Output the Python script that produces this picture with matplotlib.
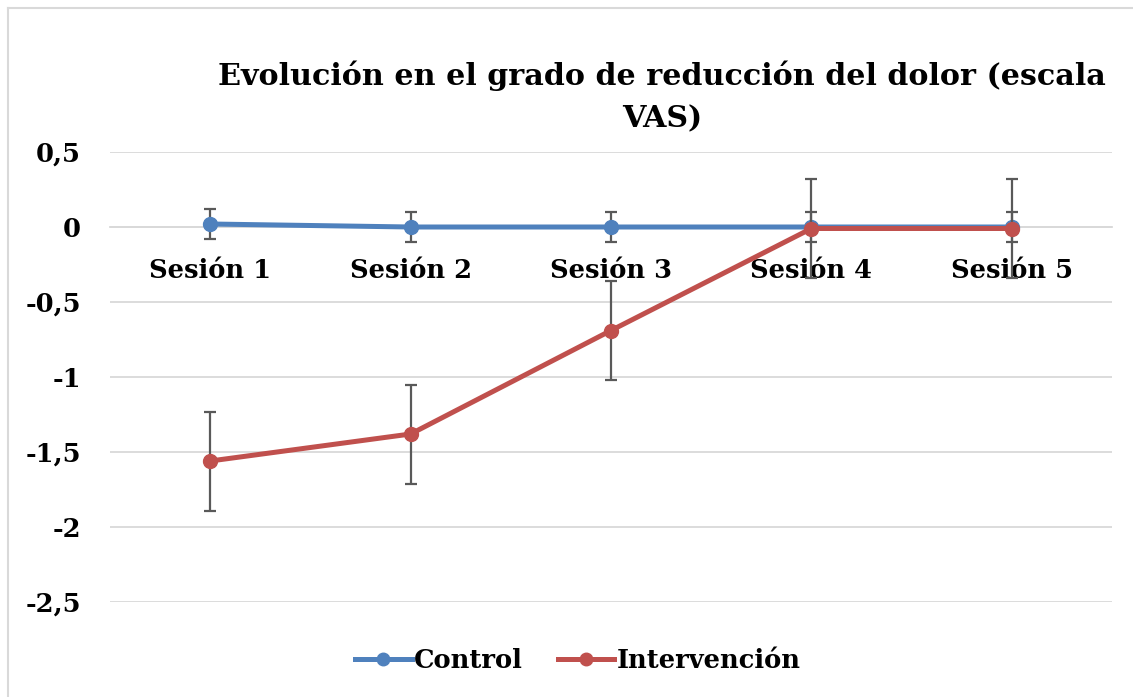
import matplotlib
matplotlib.use("Agg")
import matplotlib.pyplot as plt
from matplotlib.lines import Line2D

categories = ["Sesión 1", "Sesión 2", "Sesión 3", "Sesión 4", "Sesión 5"]
control = [0.02, 0.0, 0.0, 0.0, 0.0]
control_err = [0.1, 0.1, 0.1, 0.1, 0.1]
intervencion = [-1.56, -1.38, -0.69, -0.01, -0.01]
intervencion_err = [0.33, 0.33, 0.33, 0.33, 0.33]
yticks = [0.5, 0, -0.5, -1, -1.5, -2, -2.5]
ytick_labels = ["0,5", "0", "-0,5", "-1", "-1,5", "-2", "-2,5"]
title = "Evolución en el grado de reducción del dolor (escala\nVAS)"

FONT = "DejaVu Serif"
W, H = 1133, 697
fig = plt.figure(figsize=(W / 100, H / 100), dpi=100)
fig.patch.set_facecolor("white")

ax = fig.add_axes([110 / W, 1 - 602 / H, (1112 - 110) / W, (602 - 152) / H])
x = list(range(len(categories)))

blue = "#4f81bd"
red = "#c0504d"
errc = "#595959"

ax.errorbar(x, control, yerr=control_err, color=blue, lw=3.6, marker="o", ms=10,
            ecolor=errc, elinewidth=1.6, capsize=4.5, capthick=1.6, zorder=3)
ax.errorbar(x, intervencion, yerr=intervencion_err, color=red, lw=3.6, marker="o", ms=10,
            ecolor=errc, elinewidth=1.6, capsize=4.5, capthick=1.6, zorder=4)

ax.set_xlim(-0.5, len(categories) - 0.5)
ax.set_ylim(-2.5, 0.5)
ax.set_yticks(yticks)
ax.set_yticklabels(ytick_labels)
ax.set_xticks(x)
ax.set_xticklabels(categories)
ax.grid(axis="y", color="#d9d9d9", lw=1.3, zorder=0)
ax.set_axisbelow(True)
for s in ["top", "right", "left"]:
    ax.spines[s].set_visible(False)
ax.spines["bottom"].set_position(("data", 0))
ax.spines["bottom"].set_color("#d9d9d9")
ax.spines["bottom"].set_linewidth(1.3)
ax.tick_params(axis="both", length=0)
ax.tick_params(axis="x", pad=22)
ax.tick_params(axis="y", pad=21)
for lab in ax.get_xticklabels() + ax.get_yticklabels():
    lab.set_fontfamily(FONT)
    lab.set_fontweight("bold")
    lab.set_fontsize(18.5)

fig.text(662 / W, 1 - 97 / H, title, ha="center", va="center", fontsize=21.7,
         fontweight="bold", fontfamily=FONT, linespacing=1.55)

handles = [Line2D([], [], color=blue, lw=3.6, marker="o", ms=9),
           Line2D([], [], color=red, lw=3.6, marker="o", ms=9)]
fig.legend(handles, ["Control", "Intervención"], loc="center", bbox_to_anchor=(578 / W, 1 - 660 / H),
           ncol=2, frameon=False, prop={"family": FONT, "weight": "bold", "size": 18.5},
           handlelength=2.2, handletextpad=0.1, columnspacing=1.35)

# chart border (left and top visible)
fig.add_artist(Line2D([8 / W, 8 / W], [1 - 8 / H, 0], color="#d9d9d9", lw=1.5, transform=fig.transFigure))
fig.add_artist(Line2D([8 / W, 1], [1 - 8 / H, 1 - 8 / H], color="#d9d9d9", lw=1.5, transform=fig.transFigure))

fig.savefig("out.png", dpi=100)
